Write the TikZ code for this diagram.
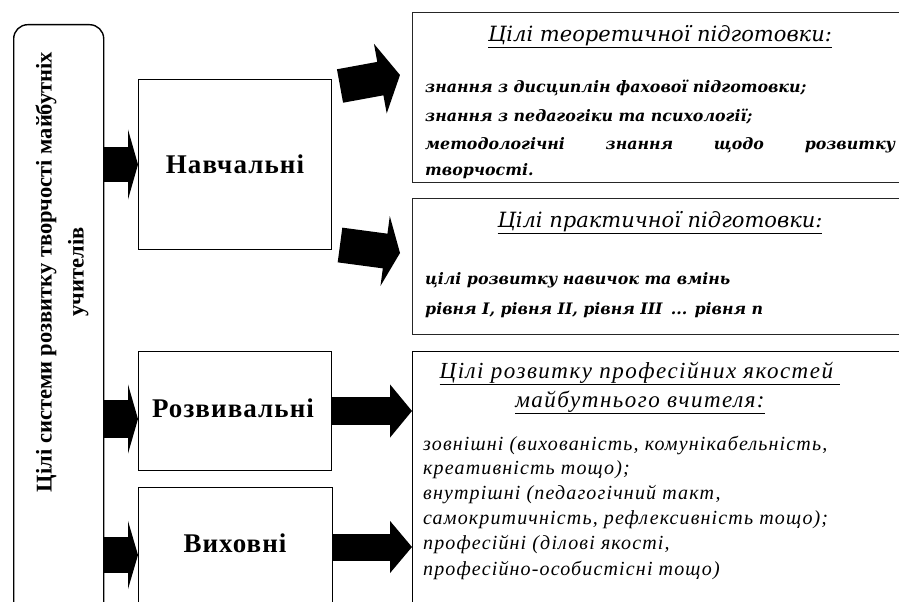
\documentclass[tikz,border=0pt]{standalone}
\usepackage{fontspec}
\setmainfont{Liberation Serif}
\newfontfamily\dvs{DejaVu Serif}
\usetikzlibrary{arrows.meta}
\begin{document}
\begin{tikzpicture}[x=1pt,y=-1pt,
  box/.style={draw, line width=1pt, anchor=north west, inner sep=0pt},
  thickbox/.style={box, line width=1.4pt, draw=black!85},
  lbl/.style={font=\fontsize{27}{31}\selectfont\bfseries\addfontfeature{LetterSpace=4}, inner sep=0pt},
  ttl/.style={font=\dvs\fontsize{21}{24}\selectfont\itshape, inner sep=0pt, anchor=center},
  bodytxt/.style={font=\dvs\fontsize{15.8}{18}\selectfont\bfseries\itshape, inner sep=0pt, anchor=west},
  thrtxt/.style={font=\fontsize{20}{24}\selectfont\itshape\addfontfeature{LetterSpace=5.75}, inner sep=0pt, anchor=west},
  inarrow/.style n args={3}{line width=#1, -{Triangle[length=#3, width=#2]}},
]
\useasboundingbox (0,0) rectangle (899,602);
\begin{scope}
\clip (0,0) rectangle (899,602);
% boxes
\node[box, rounded corners=14pt, line width=1.4pt, minimum width=90pt, minimum height=600pt] (t) at (13,24) {};
\node[box, minimum width=193pt, minimum height=170pt] (nav) at (138,79) {};
\node[box, minimum width=193pt, minimum height=119pt] (roz) at (138,351) {};
\node[box, minimum width=194pt, minimum height=130pt] (vyh) at (138,487) {};
\node[thickbox, minimum width=500pt, minimum height=170pt] (b1) at (412,12) {};
\node[thickbox, minimum width=500pt, minimum height=136pt] (b2) at (412,198) {};
\node[box, minimum width=500pt, minimum height=270pt] (b3) at (412,351) {};

% vertical title
\node[rotate=90, align=center, inner sep=0pt, font=\fontsize{22.5}{32}\selectfont\bfseries] (tt) at (62,272)
  {Цілі системи розвитку творчості майбутніх\\учителів};

% labels
\node[lbl] (navl) at (nav.center) {Навчальні};
\node[lbl] (rozl) at (233,408) {Розвивальні};
\node[lbl] (vyhl) at (235,543) {Виховні};

% box 1
\node[ttl] (b1t) at (660,37) {\underline{Цілі теоретичної підготовки:}};
\node[bodytxt] (b1a) at (425,88) {знання з дисциплін фахової підготовки;};
\node[bodytxt] (b1b) at (425,117) {знання з педагогіки та психології;};
\node[bodytxt] (b1c) at (425,145) {\hbox to 470pt{методологічні\hfill знання\hfill щодо\hfill розвитку}};
\node[bodytxt] (b1d) at (425,171) {творчості.};

% box 2
\node[ttl] (b2t) at (660,223) {\underline{Цілі практичної підготовки:}};
\node[bodytxt] (b2a) at (425,280) {цілі розвитку навичок та вмінь};
\node[bodytxt] (b2b) at (425,310) {рівня I, рівня II, рівня III \,... рівня n};

% box 3
\node[font=\fontsize{23}{29}\selectfont\itshape\addfontfeature{LetterSpace=6.5}, inner sep=0pt, align=center] (b3t) at (640,388)
  {\underline{Цілі розвитку професійних якостей\ }\\\underline{майбутнього вчителя:}};
\node[thrtxt] (b3a) at (423,445) {зовнішні (вихованість, комунікабельність,};
\node[thrtxt] (b3b) at (423,470) {креативність тощо);};
\node[thrtxt] (b3c) at (423,495) {внутрішні (педагогічний такт,};
\node[thrtxt] (b3d) at (423,520) {самокритичність, рефлексивність тощо);};
\node[thrtxt] (b3e) at (423,545) {професійні (ділові якості,};
\node[thrtxt] (b3f) at (423,570) {професійно-особистісні тощо)};

% coordinates for arrows
\coordinate (y1) at (0,164.5);
\coordinate (y2) at (0,419);
\coordinate (y3) at (0,555);
\coordinate (y4) at (0,411);
\coordinate (y5) at (0,547);
\coordinate (s1) at (340,86);
\coordinate (e1) at (400,75);
\coordinate (s2) at (340,245);
\coordinate (e2) at (400,253);

% arrows
\draw[inarrow={35pt}{70pt}{10pt}] (t.east |- y1) -- (nav.west |- y1);
\draw[inarrow={38pt}{69pt}{10pt}] (t.east |- y2) -- (roz.west |- y2);
\draw[inarrow={36pt}{68pt}{10pt}] (t.east |- y3) -- (vyh.west |- y3);
\draw[inarrow={34pt}{70pt}{20pt}] (s1) -- (e1);
\draw[inarrow={35pt}{70pt}{15pt}] (s2) -- (e2);
\draw[inarrow={28pt}{52pt}{22pt}] (roz.east |- y4) -- (b3.west |- y4);
\draw[inarrow={27pt}{51pt}{22pt}] (vyh.east |- y5) -- (b3.west |- y5);
\end{scope}
\end{tikzpicture}
\end{document}
